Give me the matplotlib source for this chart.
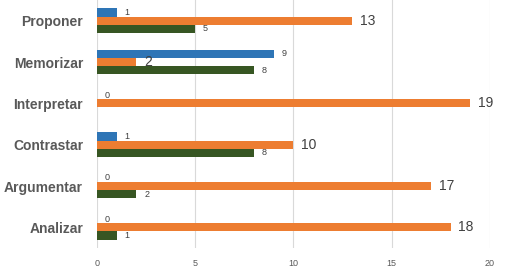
import matplotlib
matplotlib.use("Agg")
import matplotlib.pyplot as plt
import numpy as np

categories = ["Analizar", "Argumentar", "Contrastar", "Interpretar", "Memorizar", "Proponer"]
blue_vals = [0, 0, 1, 0, 9, 1]
orange_vals = [18, 17, 10, 19, 2, 13]
green_vals = [1, 2, 8, None, 8, 5]
xticks = [0, 5, 10, 15, 20]

c_blue = "#2E75B6"
c_orange = "#ED7D31"
c_green = "#375623"
gray = "#595959"

fig = plt.figure(figsize=(5.05, 2.79), dpi=100)
ax = fig.add_axes([0.192, 0.111, 0.778, 0.889])

y = np.arange(len(categories))
h = 0.2
series = [(blue_vals, c_blue, h, 6.5), (orange_vals, c_orange, 0, 10)]
series.append((green_vals, c_green, -h, 6.5))
for vals, col, off, fs in series:
    for yi, v in zip(y, vals):
        if v is None:
            continue
        ax.barh(yi + off, v, height=h, color=col, zorder=3)
        ax.text(v + 0.4 if v > 0 else 0.4, yi + off, str(v), va="center", ha="left",
                fontsize=fs, color="#404040", family="Liberation Sans")

ax.set_xlim(0, 20)
ax.set_ylim(-0.5, 5.5)
ax.set_xticks(xticks)
ax.set_xticklabels([str(t) for t in xticks], fontsize=6.5, color=gray, family="Liberation Sans")
ax.set_yticks(y)
ax.set_yticklabels(categories, fontsize=10, fontweight="bold", color=gray, family="Liberation Sans")
ax.grid(axis="x", color="#D9D9D9", linewidth=0.8, zorder=0)
for s in ax.spines.values():
    s.set_visible(False)
ax.tick_params(axis="y", length=0, pad=10)
ax.tick_params(axis="x", length=0, pad=8)

fig.savefig("out.png", dpi=100)
